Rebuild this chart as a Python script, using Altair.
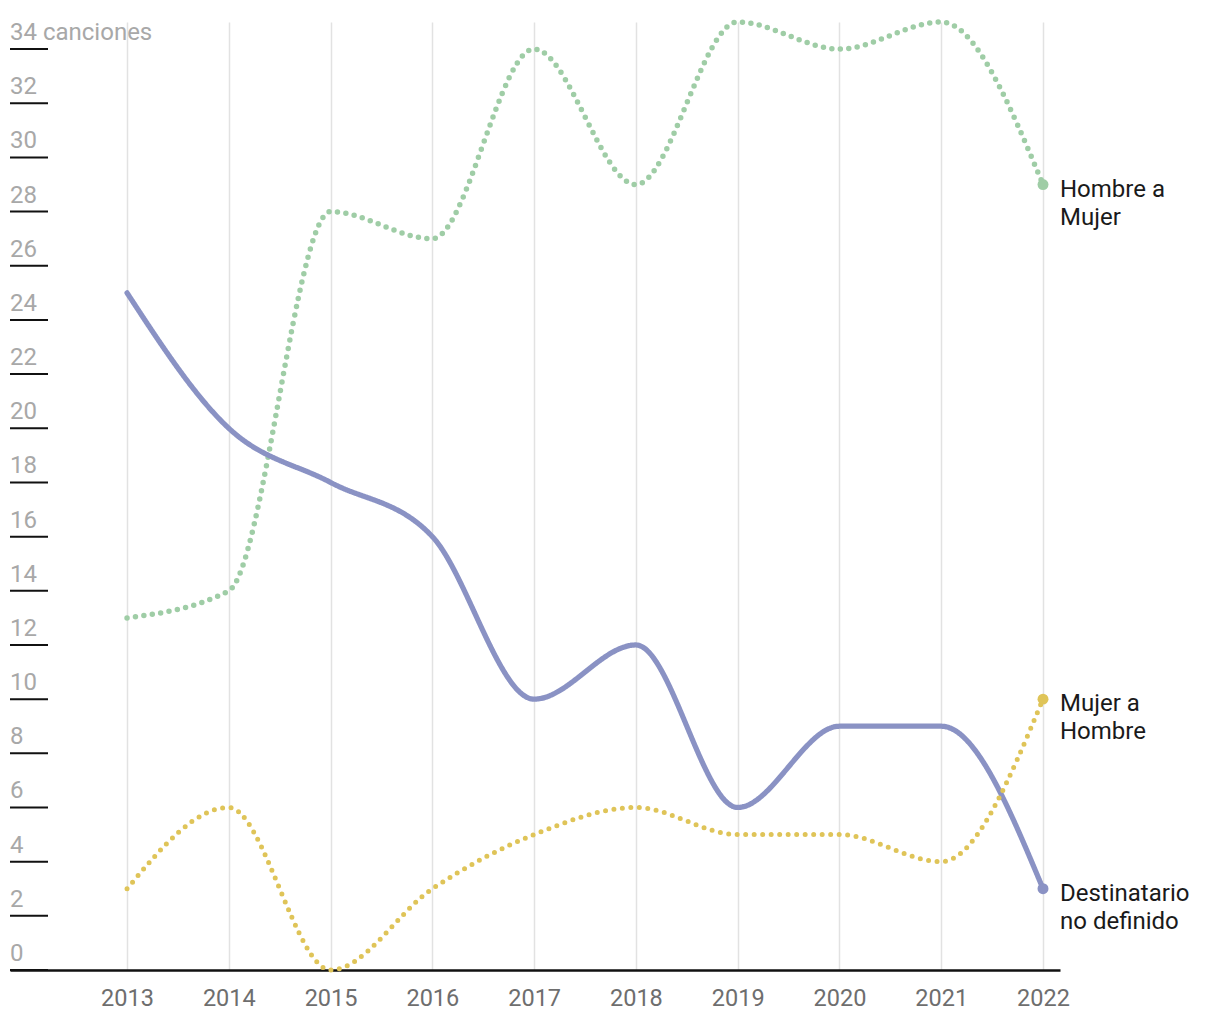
import altair as alt
import pandas as pd

years = list(range(2013, 2023))
hombre_a_mujer = [13, 14, 28, 27, 34, 29, 35, 34, 35, 29]
no_definido = [25, 20, 18, 16, 10, 12, 6, 9, 9, 3]
mujer_a_hombre = [3, 6, 0, 3, 5, 6, 5, 5, 4, 10]

series_names = ["Hombre a Mujer", "Destinatario no definido", "Mujer a Hombre"]
series_labels = ["Hombre a\nMujer", "Destinatario\nno definido", "Mujer a\nHombre"]
series_colors = ["#9fcda6", "#8a92c4", "#dfc458"]
series_dash = [[0, 8.5], [1, 0], [0, 8.5]]
series_width = [5.5, 5, 5.5]

y_ticks = list(range(0, 35, 2))
y_tick_labels = [str(v) for v in y_ticks[:-1]] + ["34 canciones"]

rows = []
for name, vals in zip(series_names, [hombre_a_mujer, no_definido, mujer_a_hombre]):
    for yr, v in zip(years, vals):
        rows.append({"year": yr, "value": v, "serie": name})
df = pd.DataFrame(rows)

end_df = pd.DataFrame({
    "year": [years[-1]] * 3,
    "value": [hombre_a_mujer[-1], no_definido[-1], mujer_a_hombre[-1]],
    "serie": series_names,
    "label": series_labels,
})

ticks_df = pd.DataFrame({"value": y_ticks, "label": y_tick_labels})

FONT = "Roboto"
xscale = alt.Scale(domain=[2011.85, 2022.167], nice=False, zero=False)
yscale = alt.Scale(domain=[0, 35], nice=False)
color = alt.Color("serie:N", scale=alt.Scale(domain=series_names, range=series_colors), legend=None)

x_enc = alt.X("year:Q", scale=xscale, axis=alt.Axis(
    values=years, format="d", title=None, grid=True, gridColor="#e2e2e2", gridWidth=1.5,
    ticks=False, domain=True, domainColor="#111111", domainWidth=2.5,
    labelFont=FONT, labelFontSize=23.5, labelColor="#6e6e6e", labelPadding=16))

base_grid = alt.Chart(df).mark_line(opacity=0).encode(
    x=x_enc, y=alt.Y("value:Q", scale=yscale, axis=None))

tick_rules = alt.Chart(ticks_df).mark_rule(color="#111111", strokeWidth=2).encode(
    x=alt.value(0), x2=alt.value(38), y=alt.Y("value:Q", scale=yscale, axis=None))

tick_text = alt.Chart(ticks_df).mark_text(
    align="left", baseline="alphabetic", dy=-9, font=FONT, fontSize=24, color="#a8a8a8"
).encode(x=alt.value(0), y=alt.Y("value:Q", scale=yscale, axis=None), text="label:N")

lines = alt.Chart(df).mark_line(interpolate="monotone", strokeCap="round").encode(
    x=alt.X("year:Q", scale=xscale),
    y=alt.Y("value:Q", scale=yscale, axis=None),
    color=color,
    strokeDash=alt.StrokeDash("serie:N", scale=alt.Scale(domain=series_names, range=series_dash), legend=None),
    strokeWidth=alt.StrokeWidth("serie:N", scale=alt.Scale(domain=series_names, range=series_width), legend=None),
)

points = alt.Chart(end_df).mark_point(filled=True, size=120, opacity=1).encode(
    x=alt.X("year:Q", scale=xscale), y=alt.Y("value:Q", scale=yscale, axis=None), color=color)

labels = alt.Chart(end_df).mark_text(
    align="left", baseline="alphabetic", dx=17, dy=12, lineBreak="\n", lineHeight=28,
    font=FONT, fontSize=24, color="#1a1a1a"
).encode(x=alt.X("year:Q", scale=xscale), y=alt.Y("value:Q", scale=yscale, axis=None), text="label:N")

chart = alt.layer(base_grid, tick_rules, tick_text, lines, points, labels).properties(
    width=1050, height=948,
    padding={"left": 1, "top": 3, "right": 5, "bottom": 5},
).configure_view(stroke=None)

chart.save("out.html", embed_options={"renderer": "svg", "actions": False})
